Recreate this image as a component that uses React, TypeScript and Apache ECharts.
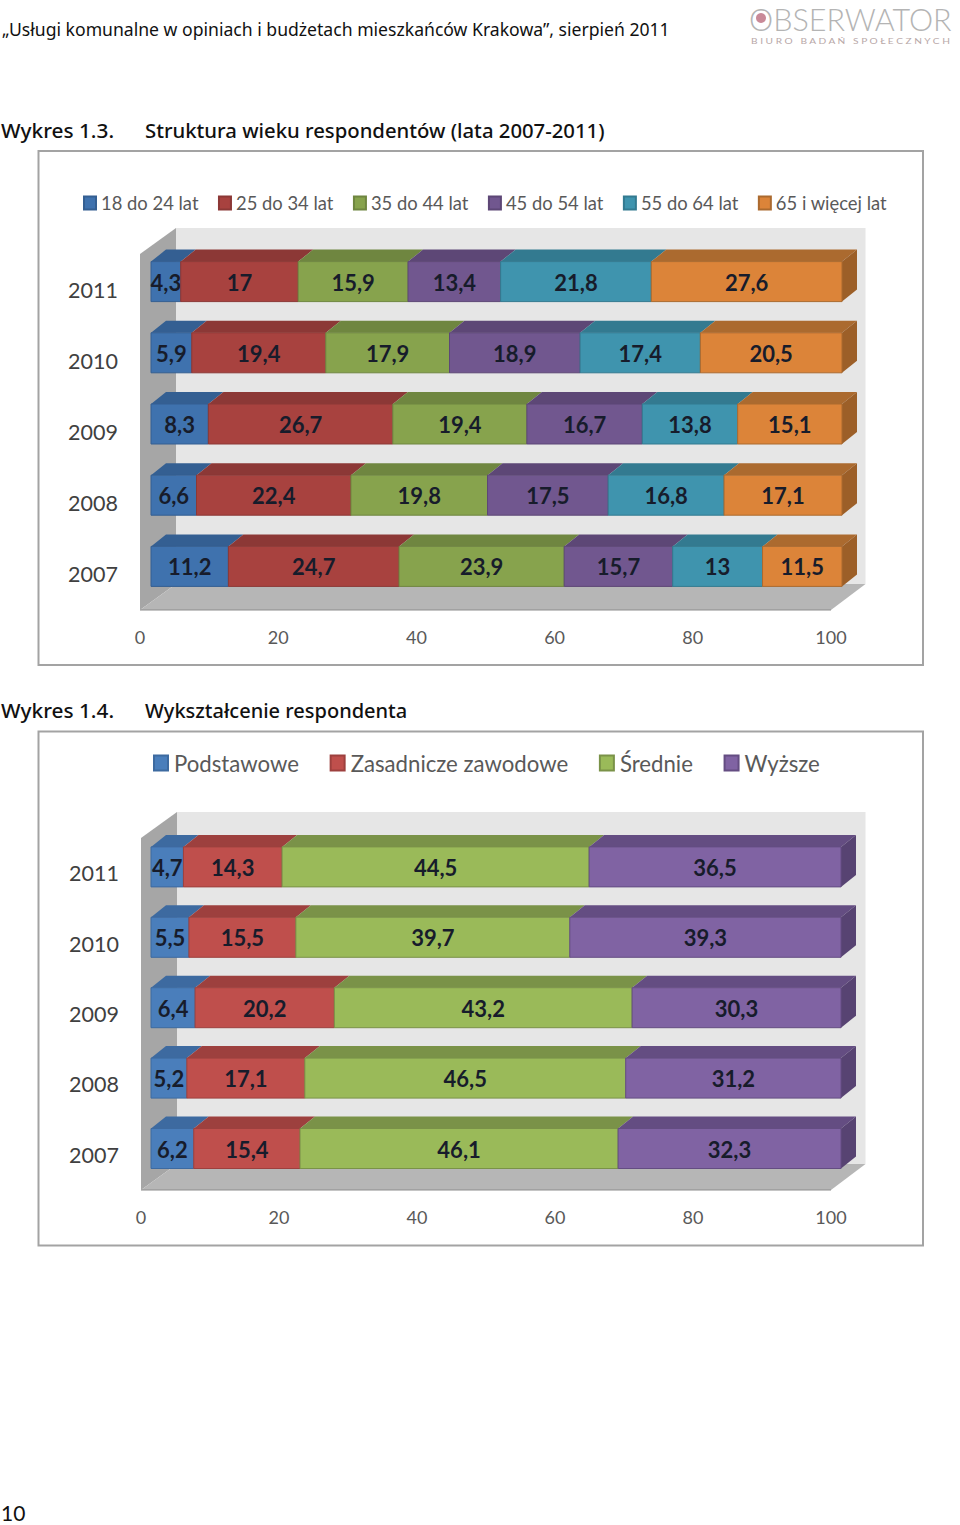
import React, { useEffect, useRef } from "react";
import * as echarts from "echarts";

const years = ["2007", "2008", "2009", "2010", "2011"];
const ageNames = ["18 do 24 lat", "25 do 34 lat", "35 do 44 lat", "45 do 54 lat", "55 do 64 lat", "65 i więcej lat"];
const age18 = [11.2, 6.6, 8.3, 5.9, 4.3];
const age25 = [24.7, 22.4, 26.7, 19.4, 17];
const age35 = [23.9, 19.8, 19.4, 17.9, 15.9];
const age45 = [15.7, 17.5, 16.7, 18.9, 13.4];
const age55 = [13, 16.8, 13.8, 17.4, 21.8];
const age65 = [11.5, 17.1, 15.1, 20.5, 27.6];
const ageRows = [age18, age25, age35, age45, age55, age65];
const ageColors = [
  ["#3f72ae", "#345f92", "#2d5482"],
  ["#a8423f", "#8c3836", "#7c302e"],
  ["#87a34d", "#6f8640", "#5f7436"],
  ["#71578f", "#5d4776", "#513e67"],
  ["#3f94ae", "#337a90", "#2c697c"],
  ["#dc8439", "#ab6a2f", "#9c5f28"],
];

const eduNames = ["Podstawowe", "Zasadnicze zawodowe", "Średnie", "Wyższe"];
const eduBasic = [6.2, 5.2, 6.4, 5.5, 4.7];
const eduVoc = [15.4, 17.1, 20.2, 15.5, 14.3];
const eduMid = [46.1, 46.5, 43.2, 39.7, 44.5];
const eduHigh = [32.3, 31.2, 30.3, 39.3, 36.5];
const eduRows = [eduBasic, eduVoc, eduMid, eduHigh];
const eduColors = [
  ["#4a7ebb", "#3d6aa0", "#34598a"],
  ["#bf4f4c", "#9d403e", "#8a3735"],
  ["#9aba59", "#7a9248", "#6b8040"],
  ["#8063a3", "#644d82", "#574372"],
];

const axisTicks = [0, 20, 40, 60, 80, 100];
const FONT = "Lato, sans-serif";
const fmt = (v: number) => String(v).replace(".", ",");

const wallSeries = (gridIndex: number) => ({
  type: "custom",
  name: "tlo" + gridIndex,
  xAxisIndex: gridIndex,
  yAxisIndex: gridIndex,
  silent: true,
  z: 1,
  data: [[0, 0]],
  encode: { x: 0, y: 1 },
  renderItem: (params: any) => {
    const { x, y, width: w, height: h } = params.coordSys;
    const dx = 36;
    const dxR = 34.5;
    const dy = -26;
    return {
      type: "group",
      children: [
        { type: "polygon", shape: { points: [[x + dx, y + dy], [x + w + dxR, y + dy], [x + w + dxR, y + h + dy], [x + dx, y + h + dy]] }, style: { fill: "#e6e6e6" } },
        { type: "polygon", shape: { points: [[x, y], [x + dx, y + dy], [x + dx, y + h + dy], [x, y + h]] }, style: { fill: "#a6a6a6" } },
        { type: "polygon", shape: { points: [[x, y + h], [x + dx, y + h + dy], [x + w + dxR, y + h + dy], [x + w, y + h]] }, style: { fill: "#b6b6b6" } },
        { type: "line", shape: { x1: x, y1: y + h, x2: x + w, y2: y + h }, style: { stroke: "#8c8c8c", lineWidth: 1 } },
      ],
    };
  },
});

const barSeries = (
  names: string[],
  rows: number[][],
  colors: string[][],
  gridIndex: number,
  offX: number,
  offY: number,
) =>
  names.map((name, s) => {
    const data = years.map((_, c) => {
      const total = rows.reduce((acc, r) => acc + r[c], 0);
      const before = rows.slice(0, s).reduce((acc, r) => acc + r[c], 0);
      return [(before / total) * 100, ((before + rows[s][c]) / total) * 100, c];
    });
    const [front, top, side] = colors[s];
    return {
      type: "custom",
      name,
      xAxisIndex: gridIndex,
      yAxisIndex: gridIndex,
      z: 2,
      itemStyle: { color: front, borderColor: top, borderWidth: 1 },
      data,
      encode: { x: [0, 1], y: 2 },
      renderItem: (params: any, api: any) => {
        const idx = params.dataIndex;
        const a = api.coord([api.value(0), idx]);
        const b = api.coord([api.value(1), idx]);
        const x0 = a[0] + offX;
        const x1 = b[0] + offX;
        const h = 40;
        const y0 = a[1] + offY - h / 2;
        const dx = 15;
        const dy = -12;
        const children: any[] = [
          { type: "polygon", shape: { points: [[x0, y0], [x0 + dx, y0 + dy], [x1 + dx, y0 + dy], [x1, y0]] }, style: { fill: top } },
        ];
        if (s === names.length - 1) {
          children.push({ type: "polygon", shape: { points: [[x1, y0], [x1 + dx, y0 + dy], [x1 + dx, y0 + dy + h], [x1, y0 + h]] }, style: { fill: side } });
        }
        children.push({ type: "rect", shape: { x: x0, y: y0, width: x1 - x0, height: h }, style: { fill: front, stroke: top, lineWidth: 1 } });
        children.push({
          type: "text",
          style: {
            x: (x0 + x1) / 2,
            y: y0 + h / 2 + 0.5,
            text: fmt(rows[s][idx]),
            align: "center",
            verticalAlign: "middle",
            fontFamily: FONT,
            fontWeight: "bold",
            fontSize: 22,
            fill: "#171c2b",
          },
        });
        return { type: "group", children };
      },
    };
  });

const frame = (y: number, h: number) => ({
  type: "rect",
  z: 0,
  shape: { x: 38.5, y, width: 884.5, height: h },
  style: { fill: "#ffffff", stroke: "#a3a3a3", lineWidth: 2 },
});

const heading = (text: string, x: number, y: number, scale: number) => ({
  type: "text",
  z: 5,
  x,
  y,
  scaleX: scale,
  style: { text, fontFamily: "'Noto Sans', sans-serif", fontWeight: 500, fontSize: 20, fill: "#111111", verticalAlign: "middle" },
});

const makeOption = () => ({
  animation: false,
  backgroundColor: "#ffffff",
  grid: [
    { left: 140, top: 254, width: 691, height: 356 },
    { left: 141, top: 838, width: 690, height: 352 },
  ],
  xAxis: [0, 1].map((gridIndex) => ({
    type: "value",
    gridIndex,
    min: axisTicks[0],
    max: axisTicks[axisTicks.length - 1],
    interval: axisTicks[1] - axisTicks[0],
    splitLine: { show: false },
    axisLine: { show: false },
    axisTick: { show: false },
    axisLabel: { margin: 18, fontFamily: FONT, fontSize: 18, color: "#595959" },
  })),
  yAxis: [0, 1].map((gridIndex) => ({
    type: "category",
    gridIndex,
    data: years,
    axisLine: { show: false },
    axisTick: { show: false },
    splitLine: { show: false },
    axisLabel: { margin: 22, fontFamily: FONT, fontSize: 21.5, color: "#404040", padding: gridIndex ? [5, 0, 0, 0] : [2, 0, 0, 0] },
  })),
  legend: [
    {
      data: ageNames,
      left: 83,
      top: 194,
      padding: 0,
      icon: "rect",
      itemWidth: 12,
      itemHeight: 13,
      itemGap: 19.5,
      selectedMode: false,
      textStyle: { fontFamily: FONT, fontSize: 18.4, color: "#595959" },
    },
    {
      data: eduNames,
      left: 153,
      top: 752,
      padding: 0,
      icon: "rect",
      itemWidth: 14,
      itemHeight: 15,
      itemGap: 30.7,
      selectedMode: false,
      textStyle: { fontFamily: FONT, fontSize: 22.2, color: "#595959", padding: [0, 0, 0, 1] },
    },
  ],
  graphic: [
    frame(151, 514),
    frame(731.5, 514),
    { type: "text", z: 5, style: { x: 2, y: 29, text: "„Usługi komunalne w opiniach i budżetach mieszkańców Krakowa”, sierpień 2011", fontFamily: "'Noto Sans', sans-serif", fontSize: 17.6, fill: "#111111", verticalAlign: "middle" } },
    { type: "text", z: 5, x: 749, y: 18.5, style: { text: "OBSERWATOR", fontFamily: FONT, fontWeight: 300, fontSize: 30.5, fill: "#b4b4b4", verticalAlign: "middle" } },
    { type: "circle", z: 6, shape: { cx: 761, cy: 18, r: 5 }, style: { fill: "#c98a98" } },
    { type: "text", z: 5, x: 751, y: 41, scaleX: 1.27, style: { text: "B I U R O   B A D A Ń   S P O Ł E C Z N Y C H", fontFamily: FONT, fontSize: 8, fill: "#b8a8a8", verticalAlign: "middle" } },
    heading("Wykres 1.3.", 1, 130, 1.04),
    heading("Struktura wieku respondentów (lata 2007-2011)", 145, 130, 1.015),
    heading("Wykres 1.4.", 1, 710, 1.04),
    heading("Wykształcenie respondenta", 145, 710, 1),
    { type: "text", z: 5, style: { x: 1, y: 1512.5, text: "10", fontFamily: FONT, fontSize: 21, fill: "#111111", verticalAlign: "middle" } },
  ],
  series: [
    wallSeries(0),
    wallSeries(1),
    ...barSeries(ageNames, ageRows, ageColors, 0, 11, -8),
    ...barSeries(eduNames, eduRows, eduColors, 1, 10, -6.3),
  ],
});

export default function App() {
  const ref = useRef<HTMLDivElement>(null);
  useEffect(() => {
    document.body.style.margin = "0";
    const chart = echarts.init(ref.current!, null, { renderer: "svg" });
    chart.setOption(makeOption() as any);
    return () => chart.dispose();
  }, []);
  return <div ref={ref} style={{ width: 960, height: 1525 }} />;
}
